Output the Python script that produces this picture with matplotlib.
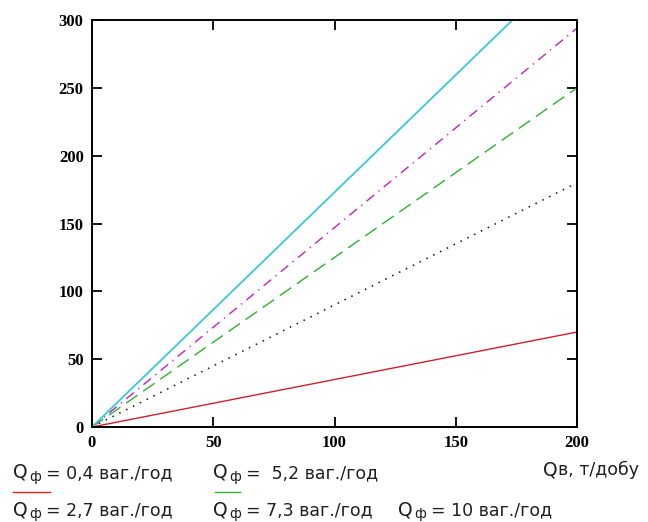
import matplotlib
matplotlib.use("Agg")
import matplotlib.pyplot as plt

# flow of goods, t/day
q_in = [0, 200]
# output for each wagon flow, straight lines from the origin
q_04 = [0, 70]
q_27 = [0, 180]
q_52 = [0, 250]
q_73 = [0, 294]
q_10 = [0, 346]

x_ticks = [0, 50, 100, 150, 200]
y_ticks = [0, 50, 100, 150, 200, 250, 300]

W, H = 648, 522
fig = plt.figure(figsize=(W / 100, H / 100), dpi=100)
ax = fig.add_axes([92 / W, 1 - 427 / H, 485 / W, 407 / H])

ax.plot(q_in, q_04, color="#d0202a", lw=1.0)
ax.plot(q_in, q_27, color="#101010", lw=1.1, linestyle=(0, (1, 4)))
ax.plot(q_in, q_52, color="#30b030", lw=1.0, linestyle=(0, (10, 5)))
ax.plot(q_in, q_73, color="#c020c0", lw=1.0, linestyle=(0, (7, 4, 1, 4)))
ax.plot(q_in, q_10, color="#38c8d8", lw=1.3)

ax.set_xlim(0, 200)
ax.set_ylim(0, 300)
ax.set_xticks(x_ticks)
ax.set_yticks(y_ticks)
ax.tick_params(direction="in", length=7, width=1.3, top=True, right=True,
               labelsize=12, pad=6)
for lab in ax.get_xticklabels() + ax.get_yticklabels():
    lab.set_fontfamily("Liberation Serif")
    lab.set_fontweight("bold")
for s in ax.spines.values():
    s.set_linewidth(1.4)

# captions under the plot, placed in pixels
font = dict(family="DejaVu Sans", fontsize=12.5, color="#202020", va="baseline")
big_q = dict(font, fontsize=13.5)
sub = dict(font, fontsize=10)

def px(x, y):
    return x / W, 1 - y / H

def caption(x, y, value):
    fig.text(*px(x, y), "Q", **big_q)
    fig.text(*px(x + 16, y + 3), "ф", **sub)
    fig.text(*px(x + 33, y), "= " + value + " ваг./год", **font)

caption(13, 478, "0,4")
caption(213, 478, " 5,2")
caption(13, 515, "2,7")
caption(213, 515, "7,3")
caption(398, 515, "10")

fig.lines.append(plt.Line2D([13 / W, 50 / W], [1 - 492 / H] * 2, color="#d0202a",
                            lw=1.0, transform=fig.transFigure))
fig.lines.append(plt.Line2D([215 / W, 240 / W], [1 - 492 / H] * 2, color="#30b030",
                            lw=1.0, transform=fig.transFigure))

fig.text(*px(543, 475), "Q", **big_q)
fig.text(*px(558, 475), "в, т/добу", **font)

fig.savefig("out.png", dpi=100, facecolor="white")
